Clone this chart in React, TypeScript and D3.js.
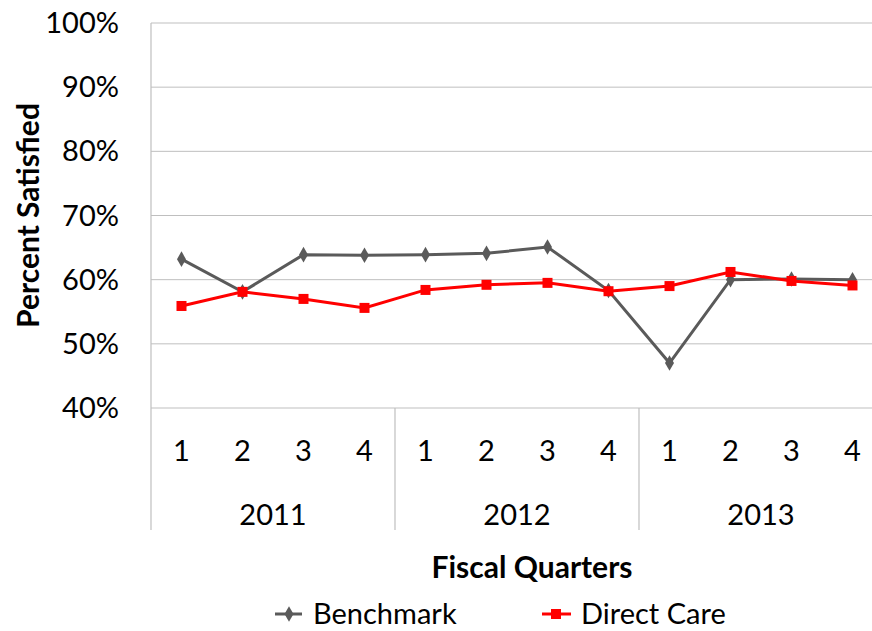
import React from "react";
import * as d3 from "d3";

const years = ["2011", "2012", "2013"];
const quarters = ["1", "2", "3", "4"];
const categories = years.flatMap((y) => quarters.map((q) => `${y}-Q${q}`));
const benchmark = [63.2, 58.1, 63.9, 63.8, 63.9, 64.1, 65.1, 58.3, 47.0, 60.0, 60.1, 60.0];
const directCare = [55.9, 58.1, 57.0, 55.6, 58.4, 59.2, 59.5, 58.2, 59.0, 61.2, 59.8, 59.1];
const yTicks = [40, 50, 60, 70, 80, 90, 100];

const FONT = "Lato, 'Open Sans', sans-serif";
const FS = 29;

export default function App() {
  const W = 872, H = 631;
  const left = 151, top = 23, bottom = 408;
  const step = 61;
  const x = d3.scaleBand<string>().domain(categories).range([left, left + step * categories.length]).padding(0);
  const y = d3.scaleLinear().domain([40, 100]).range([bottom, top]);
  const cx = (c: string) => (x(c) as number) + x.bandwidth() / 2;
  const line = d3.line<number>().x((_, i) => cx(categories[i])).y((d) => y(d));
  const diamond = d3.symbol().type(d3.symbolDiamond).size(70)();
  const axisBottom = 530;
  const grid = "#bfbfbf";
  return (
    <svg width={W} height={H} style={{ position: "absolute", left: 0, top: 0, background: "#fff" }}>
      {yTicks.map((t) => (
        <g key={t}>
          <line x1={left} x2={W} y1={y(t)} y2={y(t)} stroke={grid} strokeWidth={1} />
          <text x={119} y={y(t)} dy="0.35em" textAnchor="end" fontFamily={FONT} fontSize={FS} fill="#000">
            {t}%
          </text>
        </g>
      ))}
      <line x1={left} x2={left} y1={top} y2={axisBottom} stroke={grid} strokeWidth={1.2} />
      {years.map((yr, i) => {
        const x0 = x(`${yr}-Q1`) as number;
        const x1 = (x(`${yr}-Q4`) as number) + x.bandwidth();
        return (
          <g key={yr}>
            {i > 0 && <line x1={x0} x2={x0} y1={bottom} y2={axisBottom} stroke={grid} strokeWidth={1.2} />}
            <text x={(x0 + x1) / 2} y={515} dy="0.35em" textAnchor="middle" fontFamily={FONT} fontSize={FS}>
              {yr}
            </text>
          </g>
        );
      })}
      {categories.map((c) => (
        <text key={c} x={cx(c)} y={451} dy="0.35em" textAnchor="middle" fontFamily={FONT} fontSize={FS}>
          {c.split("-Q")[1]}
        </text>
      ))}
      <path d={line(benchmark) as string} fill="none" stroke="#5a5a5a" strokeWidth={3} />
      {benchmark.map((v, i) => (
        <path key={i} d={diamond as string} transform={`translate(${cx(categories[i])},${y(v)})`} fill="#5a5a5a" />
      ))}
      <path d={line(directCare) as string} fill="none" stroke="#ff0000" strokeWidth={3} />
      {directCare.map((v, i) => (
        <rect key={i} x={cx(categories[i]) - 5} y={y(v) - 5} width={10} height={10} fill="#ff0000" />
      ))}
      <text transform={`translate(28,${(top + bottom) / 2}) rotate(-90)`} dy="0.35em" textAnchor="middle" fontFamily={FONT} fontWeight="bold" fontSize={30}>
        Percent Satisfied
      </text>
      <text x={532} y={567} dy="0.35em" textAnchor="middle" fontFamily={FONT} fontWeight="bold" fontSize={30}>
        Fiscal Quarters
      </text>
      <g>
        <line x1={275} x2={302} y1={614} y2={614} stroke="#5a5a5a" strokeWidth={3} />
        <path d={diamond as string} transform="translate(289,614)" fill="#5a5a5a" />
        <text x={313} y={614} dy="0.35em" fontFamily={FONT} fontSize={FS}>Benchmark</text>
        <line x1={542} x2={571} y1={614} y2={614} stroke="#ff0000" strokeWidth={3} />
        <rect x={551} y={609} width={10} height={10} fill="#ff0000" />
        <text x={581} y={614} dy="0.35em" fontFamily={FONT} fontSize={FS}>Direct Care</text>
      </g>
    </svg>
  );
}
